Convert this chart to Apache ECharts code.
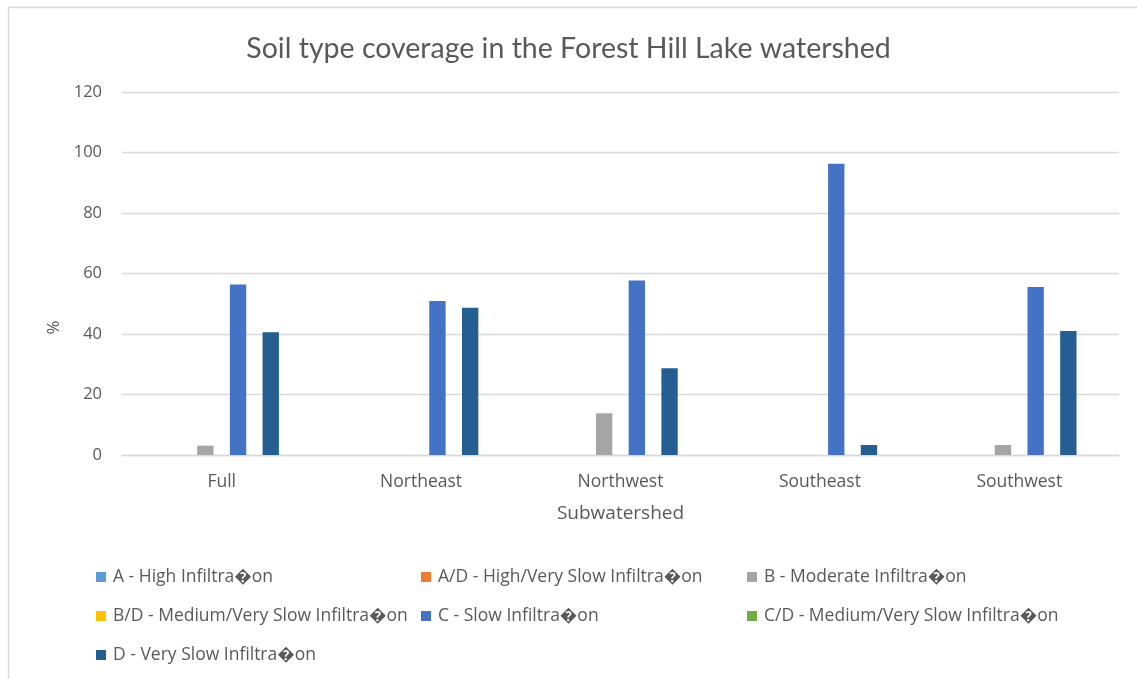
<!DOCTYPE html>
<html>
<head>
<meta charset="utf-8">
<title>Soil type coverage in the Forest Hill Lake watershed</title>
<script src="https://cdn.jsdelivr.net/npm/echarts@6/dist/echarts.min.js"></script>
<style>
  html, body { margin: 0; padding: 0; background: #ffffff; }
  #chart { width: 1137px; height: 679px; }
</style>
</head>
<body>
<div id="chart"></div>
<script>
// Subwatersheds along the category axis
const categories = ['Full', 'Northeast', 'Northwest', 'Southeast', 'Southwest'];

// Hydrologic soil group shares (%) per subwatershed
const soilA  = [0, 0, 0, 0, 0];
const soilAD = [0, 0, 0, 0, 0];
const soilB  = [3.1, 0, 13.8, 0, 3.3];
const soilBD = [0, 0, 0, 0, 0];
const soilC  = [56.4, 50.9, 57.7, 96.3, 55.5];
const soilCD = [0, 0, 0, 0, 0];
const soilD  = [40.6, 48.7, 28.7, 3.3, 41.0];

const seriesNames = [
  'A - High Infiltra\uFFFDon',
  'A/D - High/Very Slow Infiltra\uFFFDon',
  'B - Moderate Infiltra\uFFFDon',
  'B/D - Medium/Very Slow Infiltra\uFFFDon',
  'C - Slow Infiltra\uFFFDon',
  'C/D - Medium/Very Slow Infiltra\uFFFDon',
  'D - Very Slow Infiltra\uFFFDon'
];
const seriesData = [soilA, soilAD, soilB, soilBD, soilC, soilCD, soilD];

const yTicks = { min: 0, max: 120, interval: 20 };

const colors = ['#5B9BD5', '#ED7D31', '#A5A5A5', '#FFC000', '#4472C4', '#70AD47', '#255E91'];

// legend laid out in three columns, one legend block per entry
const legendSlots = [
  [96, 568], [421, 568], [747, 568],
  [96, 607], [421, 607], [747, 607],
  [96, 646]
];

const TITLE_FONT = 'Lato, "Open Sans", sans-serif';
const FONT = '"Open Sans", Lato, sans-serif';
const TEXT = '#595959';
const GRID = '#D9D9D9';

const chart = echarts.init(document.getElementById('chart'), null, { renderer: 'canvas' });

chart.setOption({
  animation: false,
  backgroundColor: '#ffffff',
  color: colors,
  title: {
    text: 'Soil type coverage in the Forest Hill Lake watershed',
    left: 'center',
    top: 29,
    textStyle: { color: TEXT, fontFamily: TITLE_FONT, fontSize: 28.5, fontWeight: 'normal' }
  },
  graphic: [{
    type: 'rect',
    shape: { x: 8.5, y: 7.5, width: 1200, height: 700 },
    style: { fill: 'none', stroke: '#D9D9D9', lineWidth: 1.5 },
    silent: true
  }],
  legend: seriesNames.map((name, i) => ({
    data: [name],
    left: legendSlots[i][0],
    top: legendSlots[i][1],
    icon: 'rect',
    itemWidth: 10,
    itemHeight: 10,
    itemGap: 0,
    padding: 0,
    selectedMode: false,
    textStyle: { color: TEXT, fontFamily: FONT, fontSize: 17.5, padding: [0, 0, 0, 2] }
  })),
  grid: { left: 122, right: 18, top: 92, bottom: 224, containLabel: false },
  xAxis: {
    type: 'category',
    data: categories,
    name: 'Subwatershed',
    nameLocation: 'middle',
    nameGap: 49,
    nameTextStyle: { color: TEXT, fontFamily: FONT, fontSize: 19 },
    axisLine: { lineStyle: { color: GRID, width: 1.3 } },
    axisTick: { show: false },
    axisLabel: { color: TEXT, fontFamily: FONT, fontSize: 17.5, margin: 18 }
  },
  yAxis: {
    type: 'value',
    min: yTicks.min,
    max: yTicks.max,
    interval: yTicks.interval,
    name: '%',
    nameLocation: 'middle',
    nameGap: 59,
    nameTextStyle: { color: TEXT, fontFamily: FONT, fontSize: 17, padding: [0, 108, 0, 0] },
    axisLine: { show: false },
    axisTick: { show: false },
    splitLine: { lineStyle: { color: GRID, width: 1.3 } },
    axisLabel: { color: TEXT, fontFamily: FONT, fontSize: 16.5, margin: 20 }
  },
  series: seriesNames.map((name, i) => ({
    name: name,
    type: 'bar',
    data: seriesData[i],
    barGap: '0%',
    barCategoryGap: '42.6%'
  }))
});
</script>
</body>
</html>
